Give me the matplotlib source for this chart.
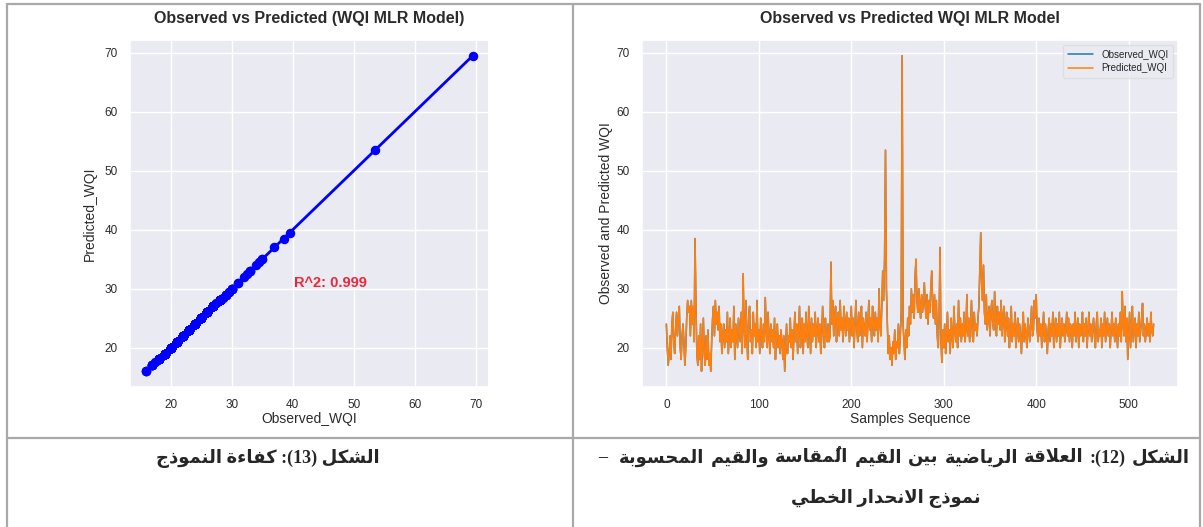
import re
import numpy as np
import matplotlib
matplotlib.use('Agg')
import matplotlib.pyplot as plt
import seaborn as sns

# Valores (índice da amostra = posição na lista)
observed_wqi = [
    24, 20, 17, 19, 22, 18, 24, 26, 21, 19, 23, 26, 22, 25, 27, 20, 18, 22, 24, 21,
    17, 20, 25, 28, 26, 27, 22, 28, 24, 27, 21, 38.5, 27, 19, 17, 22, 18, 24, 16, 20,
    25, 19, 17, 22, 18, 23, 17, 19, 16, 21, 25, 27, 22, 28, 24, 26, 23, 27, 21, 24,
    19, 22, 24, 20, 23, 21, 26, 19, 22, 25, 20, 23, 21, 27, 18, 24, 22, 20, 25, 23,
    21, 26, 19, 32.5, 24, 20, 28, 22, 18, 25, 27, 21, 23, 19, 26, 22, 24, 20, 28, 21,
    23, 19, 25, 22, 20, 24, 21, 28.5, 23, 20, 26, 22, 19, 24, 21, 23, 20, 25, 18, 22,
    24, 20, 22, 19, 23, 21, 18, 22, 16, 20, 24, 19, 22, 21, 25, 20, 23, 18, 22, 26,
    21, 24, 19, 23, 27, 20, 22, 25, 19, 24, 21, 26, 22, 20, 27, 23, 19, 25, 21, 24,
    22, 26, 20, 23, 25, 21, 24, 19, 22, 27, 23, 20, 25, 22, 21, 24, 21, 22, 34.5, 24,
    28, 22, 25, 27, 21, 24, 26, 22, 28, 23, 25, 21, 27, 24, 22, 26, 23, 25, 21, 24,
    27, 22, 25, 20, 24, 28, 23, 21, 26, 22, 24, 27, 20, 25, 23, 22, 26, 21, 24, 28,
    23, 25, 21, 27, 24, 22, 26, 23, 25, 21, 30, 24, 22, 27, 33, 28, 35, 53.5, 30, 24,
    19, 22, 18, 20, 17, 21, 19, 23, 18, 21, 20, 24, 19, 22, 26, 69.5, 24, 21, 18, 23,
    20, 25, 22, 27, 24, 30, 26, 29, 25, 32, 35, 28, 26, 30, 27, 25, 29, 26, 28, 31,
    27, 25, 29, 24, 28, 26, 30, 33, 27, 25, 29, 24, 28, 22, 20, 25, 37, 21, 17.5, 23,
    20, 24, 19, 22, 26, 21, 23, 19, 25, 22, 20, 27, 23, 21, 24, 20, 28, 22, 25, 21,
    24, 22, 26, 21, 23, 29, 22, 25, 21, 24, 28, 22, 21, 26, 23, 24, 22, 25, 27, 33,
    39.5, 31, 28, 34, 26, 24, 29, 23, 25, 27, 22, 26, 28, 24, 23, 29.5, 25, 22, 27, 24,
    26, 23, 28, 22, 25, 27, 21, 24, 26, 22, 25, 20, 23, 27, 21, 24, 22, 26, 20, 23,
    25, 21, 24, 22, 19, 23, 26, 21, 24, 22, 20, 25, 23, 21, 24, 27, 22, 23, 28, 25,
    29, 23, 21, 25, 22, 24, 20, 23, 26, 21, 24, 22, 19, 23, 25, 21, 24, 22, 26, 20,
    23, 25, 21, 24, 22, 26, 20, 23, 25, 22, 24, 21, 23, 26, 22, 25, 21, 24, 23, 20,
    24, 22, 26, 21, 23, 25, 20, 24, 22, 23, 26, 21, 24, 22, 25, 20, 23, 26, 22, 24,
    21, 23, 25, 22, 20, 24, 26, 21, 23, 22, 25, 20, 24, 22, 26, 21, 23, 25, 22, 24,
    20, 23, 26, 22, 24, 21, 25, 23, 20, 24, 22, 26, 21, 29.5, 24, 22, 27, 21, 25, 18,
    22, 26, 20, 24, 27, 21, 23, 25, 20, 24, 22, 26, 21, 23, 25, 27.5, 22, 24, 21, 23,
    25, 22, 24, 21, 26, 23, 22, 24,
]
# as duas séries se sobrepõem no gráfico (R^2 = 0.999)
predicted_wqi = list(observed_wqi)
r2_label = 'R^2: 0.999'

caption_13 = 'الشكل (13): كفاءة النموذج'
caption_12_l1 = 'الشكل (12): العلاقة الرياضية بين القيم المُقاسة والقيم المحسوبة  –'
caption_12_l2 = 'نموذج الانحدار الخطي'

# Formas contextuais árabes (isolada, final, inicial, medial)
FORMAS = {
    'ء': (0xFE80,),
    'آ': (0xFE81, 0xFE82), 'أ': (0xFE83, 0xFE84), 'ؤ': (0xFE85, 0xFE86),
    'إ': (0xFE87, 0xFE88), 'ئ': (0xFE89, 0xFE8A, 0xFE8B, 0xFE8C),
    'ا': (0xFE8D, 0xFE8E), 'ب': (0xFE8F, 0xFE90, 0xFE91, 0xFE92),
    'ة': (0xFE93, 0xFE94), 'ت': (0xFE95, 0xFE96, 0xFE97, 0xFE98),
    'ث': (0xFE99, 0xFE9A, 0xFE9B, 0xFE9C), 'ج': (0xFE9D, 0xFE9E, 0xFE9F, 0xFEA0),
    'ح': (0xFEA1, 0xFEA2, 0xFEA3, 0xFEA4), 'خ': (0xFEA5, 0xFEA6, 0xFEA7, 0xFEA8),
    'د': (0xFEA9, 0xFEAA), 'ذ': (0xFEAB, 0xFEAC), 'ر': (0xFEAD, 0xFEAE),
    'ز': (0xFEAF, 0xFEB0), 'س': (0xFEB1, 0xFEB2, 0xFEB3, 0xFEB4),
    'ش': (0xFEB5, 0xFEB6, 0xFEB7, 0xFEB8), 'ص': (0xFEB9, 0xFEBA, 0xFEBB, 0xFEBC),
    'ض': (0xFEBD, 0xFEBE, 0xFEBF, 0xFEC0), 'ط': (0xFEC1, 0xFEC2, 0xFEC3, 0xFEC4),
    'ظ': (0xFEC5, 0xFEC6, 0xFEC7, 0xFEC8), 'ع': (0xFEC9, 0xFECA, 0xFECB, 0xFECC),
    'غ': (0xFECD, 0xFECE, 0xFECF, 0xFED0), 'ف': (0xFED1, 0xFED2, 0xFED3, 0xFED4),
    'ق': (0xFED5, 0xFED6, 0xFED7, 0xFED8), 'ك': (0xFED9, 0xFEDA, 0xFEDB, 0xFEDC),
    'ل': (0xFEDD, 0xFEDE, 0xFEDF, 0xFEE0), 'م': (0xFEE1, 0xFEE2, 0xFEE3, 0xFEE4),
    'ن': (0xFEE5, 0xFEE6, 0xFEE7, 0xFEE8), 'ه': (0xFEE9, 0xFEEA, 0xFEEB, 0xFEEC),
    'و': (0xFEED, 0xFEEE), 'ى': (0xFEEF, 0xFEF0),
    'ي': (0xFEF1, 0xFEF2, 0xFEF3, 0xFEF4),
}
LAM_ALEF = {'آ': (0xFEF5, 0xFEF6), 'أ': (0xFEF7, 0xFEF8),
            'إ': (0xFEF9, 0xFEFA), 'ا': (0xFEFB, 0xFEFC)}
MARCAS = set('\u064b\u064c\u064d\u064e\u064f\u0650\u0651\u0652')


def arabe_visual(texto):
    chars = list(texto)
    n = len(chars)

    def vizinho(i, passo):
        j = i + passo
        while 0 <= j < n and chars[j] in MARCAS:
            j += passo
        return chars[j] if 0 <= j < n else None

    saida = []
    i = 0
    while i < n:
        c = chars[i]
        if c not in FORMAS:
            saida.append(c)
            i += 1
            continue
        ant = vizinho(i, -1)
        prox = vizinho(i, 1)
        liga_ant = ant in FORMAS and len(FORMAS[ant]) == 4
        if c == 'ل' and prox in LAM_ALEF:
            saida.append(chr(LAM_ALEF[prox][1 if liga_ant else 0]))
            i += 1
            while i < n and chars[i] in MARCAS:
                saida.append(chars[i])
                i += 1
            i += 1
            continue
        formas = FORMAS[c]
        liga_prox = len(formas) == 4 and prox in FORMAS
        if len(formas) == 1:
            k = 0
        elif liga_ant and liga_prox:
            k = 3
        elif liga_prox:
            k = 2
        elif liga_ant:
            k = 1
        else:
            k = 0
        saida.append(chr(formas[k]))
        i += 1

    grupos = []
    for ch in saida:
        if ch in MARCAS and grupos:
            grupos[-1] += ch
        else:
            grupos.append(ch)
    grupos.reverse()
    s = ''.join(grupos)
    s = re.sub(r'[0-9]+', lambda m: m.group(0)[::-1], s)
    return s.translate(str.maketrans('()', ')('))


sns.set_theme(style='darkgrid')
plt.rcParams['font.family'] = ['Liberation Sans', 'DejaVu Sans']
plt.rcParams['axes.facecolor'] = '#EAEAF2'

W, H = 1203, 527
fig = plt.figure(figsize=(W / 100, H / 100), dpi=100)
fig.patch.set_facecolor('white')


def caixa(x0, y0, x1, y1):
    # converte pixels (origem no topo) em fracções da figura
    return [x0 / W, 1 - y1 / H, (x1 - x0) / W, (y1 - y0) / H]


# Linhas da tabela
grade = fig.add_axes([0, 0, 1, 1], zorder=0)
grade.set_xlim(0, W)
grade.set_ylim(H, 0)
grade.axis('off')
cor_linha = '#a9a9a9'
grade.plot([7, 1200], [4, 4], color=cor_linha, lw=1.6)
grade.plot([7, 7], [4, H], color=cor_linha, lw=1.6)
grade.plot([573, 573], [4, H], color=cor_linha, lw=1.6)
grade.plot([1200, 1200], [4, H], color=cor_linha, lw=1.6)
grade.plot([7, 1200], [438, 438], color=cor_linha, lw=1.6)

texto = '#2b2b2b'

# Gráfico 1: dispersão observado vs previsto
ax1 = fig.add_axes(caixa(130, 40, 489, 387), zorder=1)
obs = np.array(observed_wqi)
pred = np.array(predicted_wqi)
ax1.scatter(obs, pred, color='blue', s=34, zorder=3)
coef = np.polyfit(obs, pred, 1)
xs = np.array([obs.min(), obs.max()])
ax1.plot(xs, np.polyval(coef, xs), color='blue', lw=2, zorder=3)
ax1.set_xticks([20, 30, 40, 50, 60, 70])
ax1.set_yticks([20, 30, 40, 50, 60, 70])
ax1.tick_params(labelsize=8.5, pad=3, colors=texto)
ax1.set_title('Observed vs Predicted (WQI MLR Model)', fontsize=11.5,
              fontweight='bold', color=texto, pad=12)
ax1.set_xlabel('Observed_WQI', fontsize=10, color=texto, labelpad=0)
ax1.set_ylabel('Predicted_WQI', fontsize=10, color=texto, labelpad=5)
ax1.text(40.2, 31, r2_label, color='#e8283c', fontsize=10.5, fontweight='bold',
         va='center', ha='left')

# Gráfico 2: sequência de amostras
ax2 = fig.add_axes(caixa(642, 40, 1178, 387), zorder=1)
amostras = np.arange(len(observed_wqi))
ax2.plot(amostras, observed_wqi, color='#1f77b4', lw=1.1, label='Observed_WQI')
ax2.plot(amostras, predicted_wqi, color='#ff7f0e', lw=1.1, label='Predicted_WQI')
ax2.set_xticks([0, 100, 200, 300, 400, 500])
ax2.set_yticks([20, 30, 40, 50, 60, 70])
ax2.tick_params(labelsize=8.5, pad=3, colors=texto)
ax2.set_title('Observed vs Predicted WQI MLR Model', fontsize=11.5,
              fontweight='bold', color=texto, pad=12)
ax2.set_xlabel('Samples Sequence', fontsize=10, color=texto, labelpad=0)
ax2.set_ylabel('Observed and Predicted WQI', fontsize=10, color=texto,
               labelpad=2)
leg = ax2.legend(loc='upper right', fontsize=7, frameon=True,
                 handlelength=2.6, borderpad=0.5, labelspacing=0.35)
leg.get_frame().set_facecolor('#EAEAF2')
leg.get_frame().set_edgecolor('#dcdcdc')

# Legendas em árabe
fam = ['Liberation Serif', 'DejaVu Sans']
tam = 13
fig.text(268 / W, 1 - 458 / H, arabe_visual(caption_13), family=fam,
         fontsize=tam, fontweight='bold', ha='center', va='center')
fig.text(886 / W, 1 - 498 / H, arabe_visual(caption_12_l2), family=fam,
         fontsize=tam, fontweight='bold', ha='center', va='center')

# primeira linha justificada entre x=598 e x=1190
linha = arabe_visual(caption_12_l1)
partes = linha.split(' ')
palavras, espacos = [], []
buf = 0
for p in partes:
    if p == '':
        buf += 1
        continue
    if palavras:
        espacos.append(buf + 1)
    palavras.append(p)
    buf = 0
render = fig.canvas.get_renderer()
objs = []
for p in palavras:
    t = fig.text(0, 1 - 458 / H, p, family=fam, fontsize=tam,
                 fontweight='bold', ha='left', va='center')
    objs.append(t)
larguras = [t.get_window_extent(render).width for t in objs]
x_esq, x_dir = 598, 1190
folga = (x_dir - x_esq - sum(larguras)) / sum(espacos)
x = x_esq
for k, t in enumerate(objs):
    t.set_x(x / W)
    x += larguras[k]
    if k < len(espacos):
        x += folga * espacos[k]

fig.savefig('out.png', dpi=100)
